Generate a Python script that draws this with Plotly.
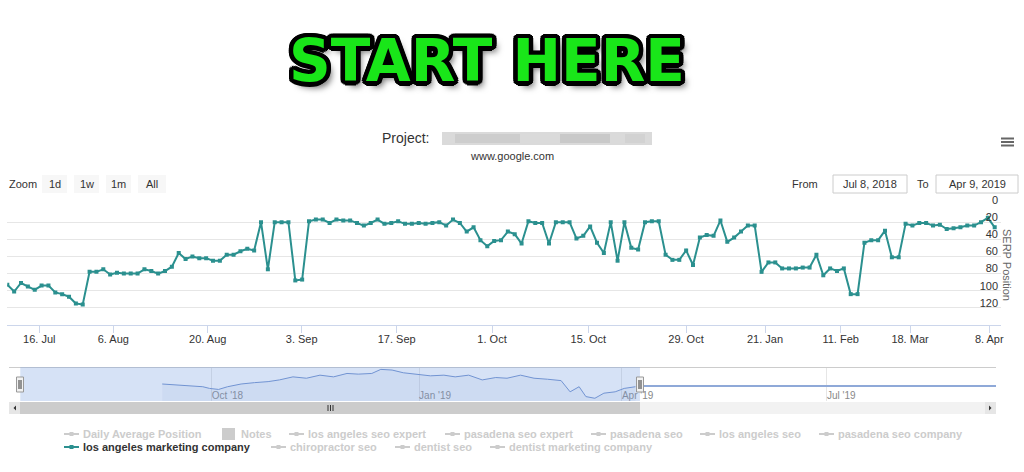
import math
import plotly.graph_objects as go

W, H = 1024, 472

# ------------------------------------------------------------------ data
SERP = [93, 101, 91, 95, 99, 94, 94, 102, 104, 107, 115, 116, 78, 78, 75, 81, 79, 80, 80, 80, 75, 77, 80, 77, 72, 56,
        63, 60, 62, 62, 65, 65, 58, 58, 54, 51, 53, 20, 75, 20, 20, 20, 88, 87, 19, 17, 17, 21, 17, 18, 18,
        21, 24, 21, 17, 22, 21, 19, 22, 22, 21, 22, 21, 20, 24, 17, 21, 31, 26, 41, 48, 42, 41, 31, 34, 45,
        19, 21, 21, 45, 20, 20, 20, 39, 36, 25, 44, 56, 20, 65, 20, 50, 52, 20, 19, 19, 58, 64, 64, 53,
        70, 38, 35, 36, 18, 43, 38, 31, 24, 24, 78, 67, 67, 74, 74, 74, 73, 73, 58, 82, 74, 77, 74, 104, 104,
        44, 41, 41, 30, 61, 61, 22, 24, 21, 21, 24, 23, 28, 27, 26, 24, 24, 20, 15, 26]
TICK_INDEX = [4.67, 15.46, 29.23, 42.93, 56.79, 70.69, 84.73, 98.98, 110.5, 121.54, 131.65, 143.21]
TICK_LABELS = ["16. Jul", "6. Aug", "20. Aug", "3. Sep", "17. Sep", "1. Oct", "15. Oct", "29. Oct",
               "21. Jan", "11. Feb", "18. Mar", "8. Apr"]
Y_TICKS = [0, 20, 40, 60, 80, 100, 120]

NAV_DATES = ["2018-09-09", "2018-09-15", "2018-09-21", "2018-09-27", "2018-09-30", "2018-10-04", "2018-10-08",
             "2018-10-14", "2018-10-20", "2018-10-26", "2018-10-31", "2018-11-06", "2018-11-12", "2018-11-18",
             "2018-11-24", "2018-11-30", "2018-12-05", "2018-12-11", "2018-12-15", "2018-12-20", "2018-12-25",
             "2018-12-31", "2019-01-06", "2019-01-12", "2019-01-17", "2019-01-23", "2019-01-29", "2019-02-04",
             "2019-02-09", "2019-02-15", "2019-02-21", "2019-02-27", "2019-03-05", "2019-03-09", "2019-03-13",
             "2019-03-16", "2019-03-20", "2019-03-24", "2019-03-29", "2019-04-02", "2019-04-07"]
NAV_VALUES = [50, 47, 44, 42, 37, 34, 42, 50, 54, 57, 62, 71, 67, 76, 71, 81, 79, 81, 93, 91, 83,
              79, 74, 76, 71, 76, 62, 69, 67, 76, 67, 64, 60, 27, 42, 13, 8, 23, 27, 37, 42]
NAV_FUTURE_DATES = ["2019-04-09", "2019-09-14"]
NAV_FUTURE_VALUES = [44, 44]
NAV_TICKS = ["2018-10-01", "2019-01-01", "2019-04-01", "2019-07-01"]
NAV_TICK_LABELS = ["Oct '18", "Jan '19", "Apr '19", "Jul '19"]

DATE_FROM = "Jul 8, 2018"
DATE_TO = "Apr 9, 2019"
RANGE_FROM = "2018-07-08"
RANGE_TO = "2019-04-09"
ZOOM_BUTTONS = ["1d", "1w", "1m", "All"]

LEGEND_ROW1 = ["Daily Average Position", "Notes", "los angeles seo expert", "pasadena seo expert",
               "pasadena seo", "los angeles seo", "pasadena seo company"]
LEGEND_ROW2 = ["los angeles marketing company", "chiropractor seo", "dentist seo", "dentist marketing company"]
ACTIVE_SERIES = "los angeles marketing company"

# ------------------------------------------------------------------ layout constants
FONT = "Liberation Sans, Arial, sans-serif"
TEAL = "#2b908f"
PLOT_L, PLOT_R, PLOT_T, PLOT_B = 7.3, 1001.0, 205.0, 325.0
STEP = 6.857
NAV_L, NAV_R, NAV_T, NAV_B = 9.0, 996.0, 367.0, 401.0
SCR_T, SCR_B = 402.0, 414.0
LEGEND_TEXT_X = [[82, 240, 307, 463, 609, 718, 837], [82, 289, 413, 508]]
LEGEND_Y = [434, 447]
BUTTON_X = [(42, 67), (74, 99), (106, 131), (138, 166)]


def fx(x):
    return x / W


def fy(y):
    return 1 - y / H


fig = go.Figure()

fig.add_trace(go.Scatter(
    x=list(range(len(SERP))), y=SERP, mode="lines+markers", name=ACTIVE_SERIES,
    line=dict(color=TEAL, width=2),
    marker=dict(symbol="square", size=4, color=TEAL),
    xaxis="x", yaxis="y", hoverinfo="x+y",
))

fig.add_trace(go.Scatter(
    x=NAV_DATES, y=NAV_VALUES, mode="lines", line=dict(color="#6f8fcc", width=1),
    fill="tozeroy", fillcolor="rgba(51,92,173,0.06)", xaxis="x2", yaxis="y2", hoverinfo="skip",
))
fig.add_trace(go.Scatter(
    x=NAV_FUTURE_DATES, y=NAV_FUTURE_VALUES, mode="lines", line=dict(color="#8fa9d8", width=2),
    xaxis="x2", yaxis="y2", hoverinfo="skip",
))

shapes = []
annotations = []


def rect(x0, y0, x1, y1, fill, line_color=None, lw=0):
    shapes.append(dict(type="rect", xref="paper", yref="paper", x0=fx(x0), x1=fx(x1), y0=fy(y1), y1=fy(y0),
                       fillcolor=fill, line=dict(color=line_color or fill, width=lw), layer="above"))


def hline(x0, x1, y, color, lw=1):
    shapes.append(dict(type="line", xref="paper", yref="paper", x0=fx(x0), x1=fx(x1), y0=fy(y), y1=fy(y),
                       line=dict(color=color, width=lw)))


def vline(x, y0, y1, color, lw=1):
    shapes.append(dict(type="line", xref="paper", yref="paper", x0=fx(x), x1=fx(x), y0=fy(y0), y1=fy(y1),
                       line=dict(color=color, width=lw)))


def text(x, y, s, size=11, color="#333333", anchor="center", weight="normal", family=FONT, extra=None, **kw):
    font = dict(family=family, size=size, color=color, weight=weight)
    if extra:
        font.update(extra)
    annotations.append(dict(x=fx(x), y=fy(y), xref="paper", yref="paper", text=s, showarrow=False,
                            xanchor=anchor, yanchor="middle", font=font, **kw))


# --- START HERE banner
outline = []
for k in range(16):
    a = 2 * math.pi * k / 16
    outline.append(f"{4.5 * math.cos(a):.1f}px {4.5 * math.sin(a):.1f}px 0 #000")
outline.append("5px 6px 6px rgba(0,0,0,0.55)")
text(487, 61, "START HERE", size=58, color="#19e619", weight="bold", family="DejaVu Sans, sans-serif",
     extra=dict(shadow=", ".join(outline)))

# --- title
text(431, 138, "Project:", size=14, color="#333333", anchor="right")
rect(442, 132, 652, 145, "#dadada")
rect(455, 134, 520, 143, "#cdcdcd")
rect(560, 134, 610, 143, "#c9c9c9")
rect(625, 134, 645, 143, "#d2d2d2")
text(512, 156, "www.google.com", size=11, color="#333333")

# --- context menu icon
for yy in (138.5, 142, 145.5):
    hline(1001, 1014, yy, "#666666", 2)

# --- range selector
text(22.5, 184, "Zoom", size=11, color="#333333")
for (x0, x1), lab in zip(BUTTON_X, ZOOM_BUTTONS):
    rect(x0, 175, x1, 193, "#f7f7f7")
    text((x0 + x1) / 2, 184, lab, size=11, color="#333333")
text(805, 184, "From", size=11, color="#333333")
rect(833, 175, 907, 193, "white", "#cccccc", 1)
text(870, 184, DATE_FROM, size=11, color="#333333")
text(923, 184, "To", size=11, color="#333333")
rect(936, 175, 1018, 193, "white", "#cccccc", 1)
text(977, 184, DATE_TO, size=11, color="#333333")

# --- y axis title
text(1007, 265, "SERP Position", size=11, color="#666666", textangle=90)

# --- navigator
hline(NAV_L, NAV_R, NAV_T + 0.5, "#cccccc", 1)
shapes.append(dict(type="rect", xref="x2", yref="paper", x0=RANGE_FROM, x1=RANGE_TO, y0=fy(NAV_B), y1=fy(NAV_T),
                   fillcolor="rgba(120,160,225,0.3)", line=dict(width=0), layer="above"))
for hx in (20, 640):
    rect(hx - 3.5, 377, hx + 3.5, 392, "#f2f2f2", "#999999", 1)
    vline(hx - 1, 380, 389, "#333333", 1)
    vline(hx + 1, 380, 389, "#333333", 1)

# --- scrollbar
rect(NAV_L, SCR_T, NAV_R, SCR_B, "#f2f2f2")
rect(NAV_L, SCR_T, NAV_L + 11, SCR_B, "#e6e6e6")
rect(NAV_R - 11, SCR_T, NAV_R, SCR_B, "#e6e6e6")
rect(NAV_L + 11, SCR_T, 640, SCR_B, "#cccccc")
for gx in (328, 330.5, 333):
    vline(gx, 405, 411, "#333333", 1)
shapes.append(dict(type="path", xref="paper", yref="paper",
                   path=f"M {fx(16)} {fy(405.5)} L {fx(16)} {fy(410.5)} L {fx(13.5)} {fy(408)} Z",
                   fillcolor="#333333", line=dict(width=0)))
shapes.append(dict(type="path", xref="paper", yref="paper",
                   path=f"M {fx(989)} {fy(405.5)} L {fx(989)} {fy(410.5)} L {fx(991.5)} {fy(408)} Z",
                   fillcolor="#333333", line=dict(width=0)))

# --- legend
for row, xs, ly in zip([LEGEND_ROW1, LEGEND_ROW2], LEGEND_TEXT_X, LEGEND_Y):
    for name, tx in zip(row, xs):
        active = name == ACTIVE_SERIES
        col = TEAL if active else "#cccccc"
        tcol = "#333333" if active else "#cccccc"
        if name == "Notes":
            rect(tx - 18, ly - 6, tx - 5, ly + 6, "#cccccc")
        else:
            hline(tx - 18, tx - 3, ly, col, 2)
            rect(tx - 12.5, ly - 2, tx - 8.5, ly + 2, col)
        text(tx - 1, ly, name, size=11, color=tcol, anchor="left", weight="bold")

fig.update_layout(
    width=W, height=H, margin=dict(l=0, r=0, t=0, b=0, pad=0), autosize=False,
    paper_bgcolor="white", plot_bgcolor="white", showlegend=False,
    font=dict(family=FONT, size=11, color="#333333"),
    xaxis=dict(domain=[fx(PLOT_L), fx(PLOT_R)], range=[0, (PLOT_R - PLOT_L) / STEP], automargin=False,
               tickvals=TICK_INDEX, ticktext=TICK_LABELS, ticks="outside", ticklen=7, tickcolor="#ccd6eb",
               ticklabelstandoff=-3,
               showline=True, linecolor="#ccd6eb", linewidth=1, showgrid=False, zeroline=False,
               tickfont=dict(size=11, color="#333333"), anchor="y", fixedrange=True),
    yaxis=dict(domain=[fy(PLOT_B), fy(PLOT_T)], range=[140, 0], tickvals=Y_TICKS, side="right",
               automargin=False,
               ticklabelposition="inside", ticklabeloverflow="allow", ticklabelshift=5,
               gridcolor="#e6e6e6", gridwidth=1, showline=False, zeroline=False,
               tickfont=dict(size=11, color="#333333"), anchor="x", fixedrange=True),
    xaxis2=dict(domain=[fx(NAV_L), fx(NAV_R)], type="date", range=["2018-07-03", "2019-09-14"],
                automargin=False,
                tickvals=NAV_TICKS, ticktext=NAV_TICK_LABELS, showgrid=True, gridcolor="#e6e6e6",
                ticks="", ticklabelposition="inside right", ticklabeloverflow="allow", ticklabelstandoff=-6,
                tickfont=dict(size=10, color="#888888"), showline=False, zeroline=False, anchor="y2",
                fixedrange=True),
    yaxis2=dict(domain=[fy(NAV_B), fy(NAV_T)], range=[0, 100], visible=False, anchor="x2", fixedrange=True,
                automargin=False),
    shapes=shapes, annotations=annotations,
)

fig.write_html("out.html")
